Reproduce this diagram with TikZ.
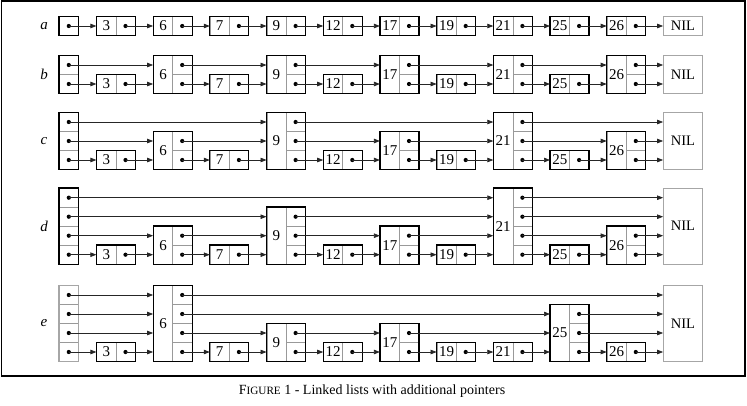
\documentclass[tikz,border=0pt]{standalone}
\usepackage{fontspec}
\setmainfont{Liberation Serif}
\usepackage{tikz}
\usetikzlibrary{arrows.meta,calc}

\begin{document}
\begin{tikzpicture}[x=1pt,y=-1pt,
    keycell/.style={draw=gray!80,line width=0.6pt,minimum width=19.2pt,inner sep=0pt,
                    font=\fontsize{15}{15}\selectfont},
    ptrcell/.style={draw=gray!80,line width=0.6pt,minimum width=19.2pt,minimum height=19pt,inner sep=0pt,
                    path picture={\fill[black] (path picture bounding box.center) circle (2.1pt);}},
    outline/.style={draw=black,line width=1.2pt},
    nilbox/.style={draw=gray!70,line width=1.2pt,minimum width=38.4pt,inner sep=0pt,
                   font=\fontsize{14.5}{14.5}\selectfont},
    link/.style={-{Stealth[length=6pt,width=4.5pt,inset=0pt]},line width=0.7pt,black!85},
    rowlabel/.style={font=\fontsize{15}{15}\selectfont\itshape}]
  \useasboundingbox (0,0) rectangle (747,405);
  \draw[line width=1.8pt] (1.5,1) rectangle (745,376);

  % row a
  \node[rowlabel] (la) at (44,26) {a};
  \node[ptrcell] (ah-1) at (68.8,26) {};
  \draw[outline] (ah-1.north west) rectangle (ah-1.south east);
  \foreach \k/\l [count=\i] in {3/1,6/1,7/1,9/1,12/1,17/1,19/1,21/1,25/1,26/1} {
    \node[keycell,minimum height={19pt*\l}] (a\k) at ({40+56.7*\i+9.6},{26-9.5*(\l-1)}) {\k};
    \foreach \j in {1,...,\l}
      \node[ptrcell] (a\k-\j) at ({40+56.7*\i+28.8},{26-19*(\j-1)}) {};
    \draw[outline] (a\k.north west) rectangle (a\k-1.south east);
  }
  \node[nilbox,minimum height=19pt] (aNIL) at (682.9,26) {NIL};
  \foreach \n [remember=\n as \p (initially h)] in {3,6,7,9,12,17,19,21,25,26,NIL}
    \draw[link] (a\p-1.center) -- (a\p-1.center -| a\n.west);

  % row b
  \node[rowlabel] (lb) at (44,74.5) {b};
  \foreach \j in {1,2}
    \node[ptrcell] (bh-\j) at ({68.8},{84-19*(\j-1)}) {};
  \draw[outline] (bh-2.north west) rectangle (bh-1.south east);
  \foreach \k/\l [count=\i] in {3/1,6/2,7/1,9/2,12/1,17/2,19/1,21/2,25/1,26/2} {
    \node[keycell,minimum height={19pt*\l}] (b\k) at ({40+56.7*\i+9.6},{84-9.5*(\l-1)}) {\k};
    \foreach \j in {1,...,\l}
      \node[ptrcell] (b\k-\j) at ({40+56.7*\i+28.8},{84-19*(\j-1)}) {};
    \draw[outline] (b\k.north west) rectangle (b\k-1.south east);
  }
  \node[nilbox,minimum height=38pt] (bNIL) at (682.9,74.5) {NIL};
  \foreach \n [remember=\n as \p (initially h)] in {3,6,7,9,12,17,19,21,25,26,NIL}
    \draw[link] (b\p-1.center) -- (b\p-1.center -| b\n.west);
  \foreach \n [remember=\n as \p (initially h)] in {6,9,17,21,26,NIL}
    \draw[link] (b\p-2.center) -- (b\p-2.center -| b\n.west);

  % row c
  \node[rowlabel] (lc) at (44,141) {c};
  \foreach \j in {1,2,3}
    \node[ptrcell] (ch-\j) at ({68.8},{160-19*(\j-1)}) {};
  \draw[outline] (ch-3.north west) rectangle (ch-1.south east);
  \foreach \k/\l [count=\i] in {3/1,6/2,7/1,9/3,12/1,17/2,19/1,21/3,25/1,26/2} {
    \node[keycell,minimum height={19pt*\l}] (c\k) at ({40+56.7*\i+9.6},{160-9.5*(\l-1)}) {\k};
    \foreach \j in {1,...,\l}
      \node[ptrcell] (c\k-\j) at ({40+56.7*\i+28.8},{160-19*(\j-1)}) {};
    \draw[outline] (c\k.north west) rectangle (c\k-1.south east);
  }
  \node[nilbox,minimum height=57pt] (cNIL) at (682.9,141) {NIL};
  \foreach \n [remember=\n as \p (initially h)] in {3,6,7,9,12,17,19,21,25,26,NIL}
    \draw[link] (c\p-1.center) -- (c\p-1.center -| c\n.west);
  \foreach \n [remember=\n as \p (initially h)] in {6,9,17,21,26,NIL}
    \draw[link] (c\p-2.center) -- (c\p-2.center -| c\n.west);
  \foreach \n [remember=\n as \p (initially h)] in {9,21,NIL}
    \draw[link] (c\p-3.center) -- (c\p-3.center -| c\n.west);

  % row d
  \node[rowlabel] (ld) at (44,226.2) {d};
  \foreach \j in {1,...,4}
    \node[ptrcell] (dh-\j) at ({68.8},{254.7-19*(\j-1)}) {};
  \draw[outline] (dh-4.north west) rectangle (dh-1.south east);
  \foreach \k/\l [count=\i] in {3/1,6/2,7/1,9/3,12/1,17/2,19/1,21/4,25/1,26/2} {
    \node[keycell,minimum height={19pt*\l}] (d\k) at ({40+56.7*\i+9.6},{254.7-9.5*(\l-1)}) {\k};
    \foreach \j in {1,...,\l}
      \node[ptrcell] (d\k-\j) at ({40+56.7*\i+28.8},{254.7-19*(\j-1)}) {};
    \draw[outline] (d\k.north west) rectangle (d\k-1.south east);
  }
  \node[nilbox,minimum height=76pt] (dNIL) at (682.9,226.2) {NIL};
  \foreach \n [remember=\n as \p (initially h)] in {3,6,7,9,12,17,19,21,25,26,NIL}
    \draw[link] (d\p-1.center) -- (d\p-1.center -| d\n.west);
  \foreach \n [remember=\n as \p (initially h)] in {6,9,17,21,26,NIL}
    \draw[link] (d\p-2.center) -- (d\p-2.center -| d\n.west);
  \foreach \n [remember=\n as \p (initially h)] in {9,21,NIL}
    \draw[link] (d\p-3.center) -- (d\p-3.center -| d\n.west);
  \foreach \n [remember=\n as \p (initially h)] in {21,NIL}
    \draw[link] (d\p-4.center) -- (d\p-4.center -| d\n.west);

  % row e
  \node[rowlabel] (le) at (44,323.5) {e};
  \foreach \j in {1,...,4}
    \node[ptrcell] (eh-\j) at ({68.8},{352-19*(\j-1)}) {};
  \draw[outline,draw=gray!70] (eh-4.north west) rectangle (eh-1.south east);
  \foreach \k/\l [count=\i] in {3/1,6/4,7/1,9/2,12/1,17/2,19/1,21/1,25/3,26/1} {
    \node[keycell,minimum height={19pt*\l}] (e\k) at ({40+56.7*\i+9.6},{352-9.5*(\l-1)}) {\k};
    \foreach \j in {1,...,\l}
      \node[ptrcell] (e\k-\j) at ({40+56.7*\i+28.8},{352-19*(\j-1)}) {};
    \draw[outline] (e\k.north west) rectangle (e\k-1.south east);
  }
  \node[nilbox,minimum height=76pt] (eNIL) at (682.9,323.5) {NIL};
  \foreach \n [remember=\n as \p (initially h)] in {3,6,7,9,12,17,19,21,25,26,NIL}
    \draw[link] (e\p-1.center) -- (e\p-1.center -| e\n.west);
  \foreach \n [remember=\n as \p (initially h)] in {6,9,17,25,NIL}
    \draw[link] (e\p-2.center) -- (e\p-2.center -| e\n.west);
  \foreach \n [remember=\n as \p (initially h)] in {6,25,NIL}
    \draw[link] (e\p-3.center) -- (e\p-3.center -| e\n.west);
  \foreach \n [remember=\n as \p (initially h)] in {6,NIL}
    \draw[link] (e\p-4.center) -- (e\p-4.center -| e\n.west);

  \node (caption) at (372,391) {\fontsize{14}{14}\selectfont F{\fontsize{11.2}{14}\selectfont IGURE} 1 - Linked lists with additional pointers};
\end{tikzpicture}
\end{document}
